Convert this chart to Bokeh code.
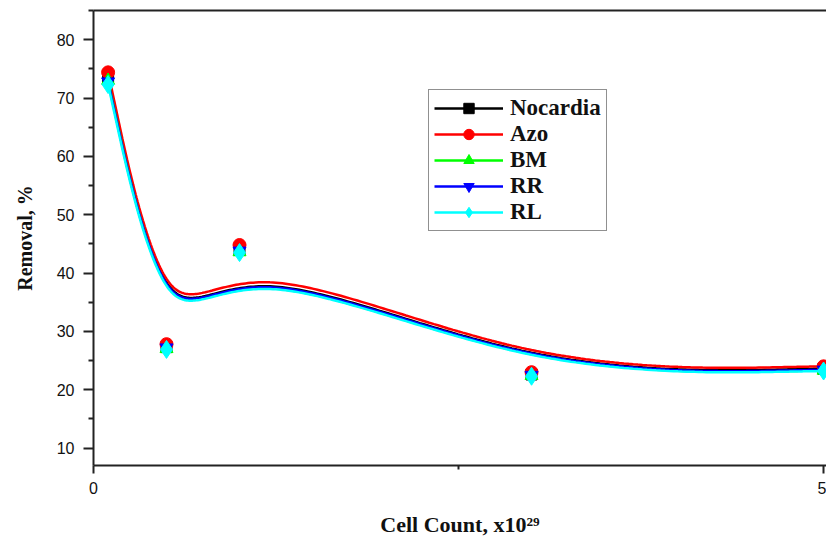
import numpy as np
from bokeh.plotting import figure
from bokeh.models import FixedTicker, LinearAxis, Legend, LegendItem, Range1d
from bokeh.embed import file_html
from bokeh.resources import INLINE

# ---- data ----
cell_count = [0.1, 0.5, 1.0, 3.0, 5.0]          # x10^29
nocardia = [73.5, 27.3, 44.0, 22.6, 23.6]
azo      = [74.4, 27.8, 44.8, 23.0, 24.0]
bm       = [73.0, 27.0, 43.6, 22.4, 23.3]
rr       = [72.8, 27.2, 43.8, 22.5, 23.4]
rl       = [72.3, 26.9, 43.5, 22.3, 23.2]

series_names = ["Nocardia", "Azo", "BM", "RR", "RL"]
series_values = [nocardia, azo, bm, rr, rl]
colors = ["#000000", "#FF0000", "#00FF00", "#0000FF", "#00FFFF"]
markers = ["square", "circle", "triangle", "inverted_triangle", "diamond"]
marker_sizes = [11, 13, 13, 13, 18]

y_ticks = [10, 20, 30, 40, 50, 60, 70, 80]
y_minor = [15, 25, 35, 45, 55, 65, 75, 85]
x_ticks = [0, 5]
x_minor = [2.5]


def bspline(xs, ys, n=60):
    """Uniform cubic B-spline connection (as Origin's B-spline line),
    using the data points as control points, ends repeated."""
    px = np.r_[xs[0], xs[0], xs, xs[-1], xs[-1]].astype(float)
    py = np.r_[ys[0], ys[0], ys, ys[-1], ys[-1]].astype(float)
    t = np.linspace(0, 1, n)
    b0 = (1 - t) ** 3 / 6
    b1 = (3 * t ** 3 - 6 * t ** 2 + 4) / 6
    b2 = (-3 * t ** 3 + 3 * t ** 2 + 3 * t + 1) / 6
    b3 = t ** 3 / 6
    ox, oy = [], []
    for i in range(len(px) - 3):
        ox.append(b0 * px[i] + b1 * px[i + 1] + b2 * px[i + 2] + b3 * px[i + 3])
        oy.append(b0 * py[i] + b1 * py[i + 1] + b2 * py[i + 2] + b3 * py[i + 3])
    return np.concatenate(ox), np.concatenate(oy)


p = figure(width=826, height=539, output_backend="svg", toolbar_location=None,
           x_range=Range1d(0, 5.02), y_range=Range1d(7, 85),
           min_border_left=93, min_border_right=0, min_border_top=10,
           min_border_bottom=73)
p.grid.visible = False
p.outline_line_color = None
p.background_fill_color = "white"
p.border_fill_color = "white"

items = []
for name, vals, col, mk, ms in zip(series_names, series_values, colors, markers, marker_sizes):
    cx, cy = bspline(cell_count, vals)
    r1 = p.line(cx, cy, line_color=col, line_width=2.5)
    r2 = p.scatter(cell_count, vals, marker=mk, size=ms, fill_color=col, line_color=col)
    items.append(LegendItem(label=name, renderers=[r1, r2]))

legend = Legend(items=items, location=(335, 234))
legend.label_text_font = "Liberation Serif"
legend.label_text_font_style = "bold"
legend.label_text_font_size = "23px"
legend.label_text_color = "#111111"
legend.glyph_width = 69
legend.glyph_height = 26
legend.label_height = 26
legend.label_standoff = 7
legend.spacing = 0
legend.padding = 5
legend.border_line_color = "#222222"
legend.border_line_width = 1
legend.background_fill_color = "white"
legend.background_fill_alpha = 1
p.add_layout(legend, "center")

# x axis
xa = p.xaxis[0]
xa.ticker = FixedTicker(ticks=x_ticks, minor_ticks=x_minor)
xa.axis_line_width = 2
xa.major_tick_line_width = 2
xa.minor_tick_line_width = 2
xa.major_tick_out = 8
xa.major_tick_in = 0
xa.minor_tick_out = 4
xa.minor_tick_in = 0
xa.major_label_text_font = "Liberation Sans"
xa.major_label_text_font_size = "16px"
xa.major_label_text_color = "#111111"
xa.major_label_standoff = 8
xa.axis_line_color = "#222222"
xa.major_tick_line_color = "#222222"
xa.minor_tick_line_color = "#222222"
xa.axis_label = "Cell Count, x10\u00b2\u2079"
xa.axis_label_text_font = "Liberation Serif"
xa.axis_label_text_font_style = "bold"
xa.axis_label_text_font_size = "22px"
xa.axis_label_text_color = "#111111"
xa.axis_label_standoff = 15

# y axis
ya = p.yaxis[0]
ya.ticker = FixedTicker(ticks=y_ticks, minor_ticks=y_minor)
ya.axis_line_width = 2
ya.major_tick_line_width = 2
ya.minor_tick_line_width = 2
ya.major_tick_out = 10
ya.major_tick_in = 0
ya.minor_tick_out = 5
ya.minor_tick_in = 0
ya.major_label_text_font = "Liberation Sans"
ya.major_label_text_font_size = "16px"
ya.major_label_text_color = "#111111"
ya.major_label_standoff = 9
ya.axis_line_color = "#222222"
ya.major_tick_line_color = "#222222"
ya.minor_tick_line_color = "#222222"
ya.axis_label = "Removal, %"
ya.axis_label_text_font = "Liberation Serif"
ya.axis_label_text_font_style = "bold"
ya.axis_label_text_font_size = "20px"
ya.axis_label_text_color = "#111111"
ya.axis_label_standoff = 18

# top border line
top = LinearAxis(ticker=FixedTicker(ticks=[]), major_label_text_font_size="0px",
                 major_tick_line_color=None, minor_tick_line_color=None,
                 axis_line_width=2, axis_line_color="#222222")
p.add_layout(top, "above")

open("out.html", "w").write(file_html(p, INLINE))
